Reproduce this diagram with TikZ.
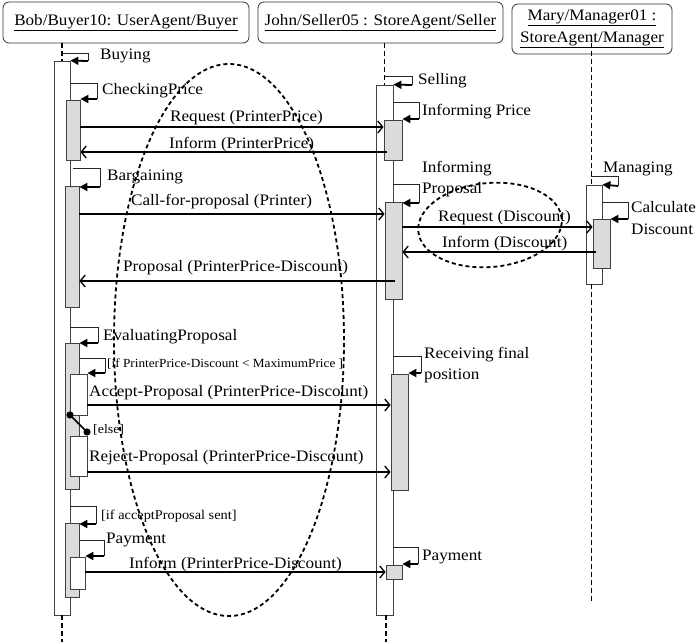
\documentclass[tikz,border=0pt]{standalone}
\usepackage{fontspec}
\setmainfont{Liberation Serif}[FakeStretch=1.07]
\usetikzlibrary{arrows.meta,calc}

\begin{document}
\begin{tikzpicture}[x=1pt,y=-1pt,
  lbl/.style={anchor=mid west, inner sep=0pt, yshift=-2.5pt, font=\fontsize{16}{19}\selectfont},
  small/.style={anchor=mid west, inner sep=0pt, yshift=-2pt, font=\fontsize{13}{15}\selectfont},
  hdr/.style={draw=black!80, rounded corners=6pt, line width=0.8pt, inner sep=0pt,
    font=\fontsize{16}{22}\selectfont, align=center},
  bar/.style={draw=black!75, line width=0.8pt, inner sep=0pt, fill=white},
  gbar/.style={bar, fill=black!14},
  msg/.style={line width=1.6pt, -{Straight Barb[length=5pt,width=12pt,line width=1.3pt]}},
  self/.style={draw=black!85, line width=0.8pt},
  selftip/.style={line width=1.8pt, -{Triangle[length=8pt,width=8pt]}},
  life/.style={line width=1.8pt, dash pattern=on 5pt off 3pt},
  thinlife/.style={line width=0.8pt, dash pattern=on 5pt off 3pt},
  oval/.style={line width=1.8pt, dash pattern=on 4pt off 3pt}
]
\useasboundingbox (0,0) rectangle (697,642);

% ---- agent headers ----
\node[hdr, minimum width=246pt, minimum height=41pt] (H1) at (126,22.5)
  {\underline{Bob/Buyer10: UserAgent/Buyer}};
\node[hdr, minimum width=245pt, minimum height=41pt] (H2) at (380.5,22.5)
  {\underline{John/Seller05 : StoreAgent/Seller}};
\node[hdr, minimum width=160pt, minimum height=50pt] (H3) at (592,29)
  {\underline{Mary/Manager01 :}\\\underline{StoreAgent/Manager}};

% ---- buyer activations ----
\node[bar,  minimum width=16pt, minimum height=554pt] (BO) at (62,338) {};
\node[gbar, minimum width=14pt, minimum height=60pt]  (G1) at (73,130) {};
\node[gbar, minimum width=14pt, minimum height=121pt] (G2) at (72,246.5) {};
\node[gbar, minimum width=14pt, minimum height=146pt] (G3) at (72,416) {};
\node[bar,  minimum width=17pt, minimum height=41pt]  (W1) at (78.5,394.5) {};
\node[bar,  minimum width=17pt, minimum height=40pt]  (W2) at (78.5,456) {};
\node[gbar, minimum width=14pt, minimum height=74pt]  (G4) at (72,560) {};
\node[bar,  minimum width=15pt, minimum height=32pt]  (W3) at (77.5,573) {};

% ---- seller activations ----
\node[bar,  minimum width=17pt, minimum height=530pt] (SO) at (384.5,350) {};
\node[gbar, minimum width=18pt, minimum height=40pt]  (S1) at (393,140) {};
\node[gbar, minimum width=17pt, minimum height=97pt]  (S2) at (393.5,250.5) {};
\node[gbar, minimum width=17pt, minimum height=116pt] (S3) at (399.5,432) {};
\node[gbar, minimum width=16pt, minimum height=14pt]  (S4) at (394,572) {};

% ---- manager activations ----
\node[bar,  minimum width=16pt, minimum height=99pt] (MO) at (594,234.5) {};
\node[gbar, minimum width=17pt, minimum height=49pt] (MG) at (601.5,243.5) {};

% ---- lifelines ----
\coordinate (bl) at (62,0);
\coordinate (sl) at (384.5,0);
\coordinate (ml) at (591,0);
\draw[life] (bl |- H1.south) -- (bl |- BO.north);
\draw[life] (bl |- BO.south) -- (62,642);
\draw[life] (sl |- H2.south) -- (sl |- SO.north);
\draw[life] (386,615) -- (386,642);
\draw[thinlife] (ml |- 0,43) -- (ml |- MO.north);
\draw[thinlife] (ml |- MO.south) -- (591,604);

% ---- self calls ----
\draw[self] (62,53) -| (88,61) coordinate (c1);
\draw[selftip] (c1) -- (BO.north east);
\draw[self] (BO.east |- 0,83) -| (97,99) coordinate (c2);
\draw[selftip] (c2) -- (G1.east |- c2);
\draw[self] (73,168) -| (100,187) coordinate (c3);
\draw[selftip] (c3) -- (G2.east |- c3);
\draw[self] (BO.east |- 0,327) -| (98,343) coordinate (c4);
\draw[selftip] (c4) -- (G3.east |- c4);
\draw[self] (G3.east |- 0,358) -| (105,373) coordinate (c5);
\draw[selftip] (c5) -- (W1.east |- c5);
\draw[self] (BO.east |- 0,506) -| (96,524) coordinate (c6);
\draw[selftip] (c6) -- (G4.east |- c6);
\draw[self] (G4.east |- 0,540) -| (104,556) coordinate (c7);
\draw[selftip] (c7) -- (W3.east |- c7);

\draw[self] (384.5,76) -| (412,85) coordinate (d1);
\draw[selftip] (d1) -- (SO.north east);
\draw[self] (SO.east |- 0,102) -| (419,119) coordinate (d2);
\draw[selftip] (d2) -- (S1.east |- d2);
\draw[self] (SO.east |- 0,184) -| (419,203) coordinate (d3);
\draw[selftip] (d3) -- (S2.east |- d3);
\draw[self] (SO.east |- 0,356) -| (421,373) coordinate (d4);
\draw[selftip] (d4) -- (S3.east |- d4);
\draw[self] (SO.east |- 0,547) -| (418,564) coordinate (d5);
\draw[selftip] (d5) -- (S4.east |- d5);

\draw[self] (591,176) -| (618,186) coordinate (e1);
\draw[selftip] (e1) -- (MO.north east);
\draw[self] (MO.east |- 0,202) -| (628,219) coordinate (e2);
\draw[selftip] (e2) -- (MG.east |- e2);

% ---- messages ----
\draw[msg] (G1.east |- 0,127) -- (S1.west |- 0,127);
\draw[msg] (387,152) -- (G1.east |- 0,152);
\draw[msg] (G2.east |- 0,214) -- (S2.west |- 0,214);
\draw[msg] (S2.east |- 0,227) -- (MG.west |- 0,227);
\draw[msg] (596,252) -- (S2.east |- 0,252);
\draw[msg] (395,281) -- (G2.east |- 0,281);
\draw[msg] (W1.east |- 0,405) -- (S3.west |- 0,405);
\draw[msg] (W2.east |- 0,472) -- (S3.west |- 0,472);
\draw[msg] (W3.east |- 0,572) -- (S4.west |- 0,572);

% ---- alternative branch marker ----
\fill (70,415) circle (3.6pt) coordinate (a1);
\fill (87,432) circle (3.6pt) coordinate (a2);
\draw[line width=1.5pt] (70,415) -- (87,432);

% ---- labels ----
\node[lbl] (tBuy) at (100,55) {Buying};
\node[lbl] (tChk) at (102,90) {CheckingPrice};
\node[lbl] (tReq) at (170,117) {Request (PrinterPrice)};
\node[lbl] (tInf) at (169,144) {Inform (PrinterPrice)};
\node[lbl] (tBar) at (107,176) {Bargaining};
\node[lbl] (tCfp) at (131,201) {Call-for-proposal (Printer)};
\node[lbl] (tPro) at (123,267) {Proposal (PrinterPrice-Discount)};
\node[lbl] (tEva) at (103,336) {EvaluatingProposal};
\node[small, font=\fontsize{12.4}{15}\selectfont] (tIf1) at (107,363) {[if PrinterPrice-Discount < MaximumPrice ]};
\node[lbl] (tAcc) at (89,392) {Accept-Proposal (PrinterPrice-Discount)};
\node[small] (tEls) at (93,429) {[else]};
\node[lbl] (tRej) at (89,457) {Reject-Proposal (PrinterPrice-Discount)};
\node[small, font=\fontsize{13.4}{15}\selectfont] (tIf2) at (101,515) {[if acceptProposal sent]};
\node[lbl] (tPay) at (106,539) {Payment};
\node[lbl] (tInf2) at (129,564) {Inform (PrinterPrice-Discount)};

\node[lbl] (tSel) at (418,80) {Selling};
\node[lbl] (tIP) at (422,111) {Informing Price};
\node[lbl] (tIPr1) at (422,168) {Informing};
\node[lbl] (tIPr2) at (422,189) {Proposal};
\node[lbl] (tRD) at (438,217) {Request (Discount)};
\node[lbl] (tID) at (442,243) {Inform (Discount)};
\node[lbl] (tRF1) at (424,354) {Receiving final};
\node[lbl] (tRF2) at (424,375) {position};
\node[lbl] (tPay2) at (422,556) {Payment};
\node[lbl] (tMan) at (603,168) {Managing};
\node[lbl] (tCal1) at (631,208) {Calculate};
\node[lbl] (tCal2) at (631,230) {Discount};

% ---- grouping ovals ----
\draw[oval] (229,340) ellipse [x radius=115pt, y radius=276pt];
\draw[oval, rotate around={5:(490,225)}] (490,225) ellipse [x radius=72pt, y radius=42pt];

\end{tikzpicture}
\end{document}
